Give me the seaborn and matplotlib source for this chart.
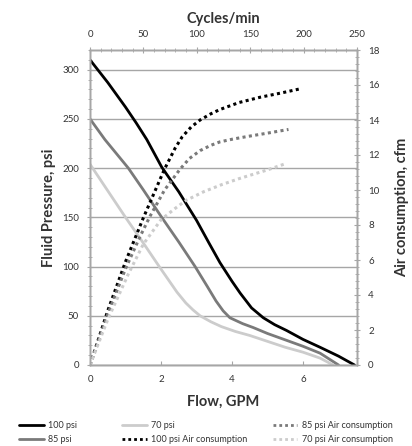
import numpy as np
import pandas as pd
import matplotlib
matplotlib.use("Agg")
import matplotlib.pyplot as plt
from matplotlib.ticker import MultipleLocator
from matplotlib.lines import Line2D
import seaborn as sns

# %% DATA
# fluid pressure (psi) vs flow (GPM)
flow_100 = [0, 0.5, 1.0, 1.3, 1.6, 2.02, 2.5, 3.0, 3.35, 3.66, 4.0, 4.23, 4.55,
            4.88, 5.2, 5.54, 6.0, 6.48, 7.0, 7.45]
psi_100 = [310, 287, 262, 246, 229, 201, 176, 147, 124, 104, 85, 73, 58,
           48, 41, 35, 26, 18, 9, 0]

flow_85 = [0, 0.42, 1.08, 1.5, 2.02, 2.5, 2.96, 3.3, 3.55, 3.75, 3.94, 4.3,
           4.6, 5.0, 5.54, 6.0, 6.48, 7.0]
psi_85 = [250, 229, 200, 178, 150, 125, 100, 80, 65, 55, 48, 42,
          38, 32, 25, 19, 12, 0]

flow_70 = [0, 0.5, 1.0, 1.5, 1.95, 2.2, 2.45, 2.7, 2.9, 3.1, 3.4, 3.7, 4.1,
           4.5, 5.0, 5.5, 6.0, 6.48, 6.85]
psi_70 = [204, 177, 150, 124, 100, 87, 74, 63, 56, 50, 44, 39, 34,
          30, 24, 18, 13, 7, 0]

# air consumption (cfm) vs flow (GPM)
air_flow_100 = [0, 0.5, 1.0, 1.5, 1.8, 2.1, 2.4, 2.6, 2.85, 3.1, 3.4, 3.66,
                4.2, 4.79, 5.4, 5.96]
cfm_100 = [0, 3.1, 5.9, 8.4, 9.8, 11.2, 12.4, 13.05, 13.6, 14.0, 14.35, 14.6,
           15.0, 15.3, 15.55, 15.8]

air_flow_85 = [0, 0.5, 1.0, 1.4, 1.69, 2.1, 2.54, 2.8, 3.1, 3.4, 3.66, 4.0,
               4.41, 5.0, 5.59]
cfm_85 = [0, 2.9, 5.5, 7.3, 8.5, 10.0, 11.2, 11.8, 12.25, 12.55, 12.75, 12.9,
          13.05, 13.25, 13.46]

air_flow_70 = [0, 0.5, 1.08, 1.5, 2.0, 2.4, 2.7, 3.2, 3.7, 4.2, 4.6, 5.0, 5.5]
cfm_70 = [0, 2.6, 5.2, 6.9, 8.3, 8.95, 9.4, 9.9, 10.3, 10.65, 10.9, 11.15, 11.5]

cycle_ticks = [0, 50, 100, 150, 200, 250]

BLACK = "#000000"
DARK = "#7a7a7a"
LIGHT = "#cccccc"
GRID = "#a6a6a6"
TXT = "#333333"

sns.set_style("white")
plt.rcParams["font.family"] = ["Lato", "DejaVu Sans"]

fig = plt.figure(figsize=(4.12, 4.46), dpi=100)
ax = fig.add_axes([90 / 412, 1 - 365 / 446, 267 / 412, 315 / 446])
ax2 = ax.twinx()
ax3 = ax.twiny()

# pressure curves
for x, y, c in [(flow_100, psi_100, BLACK),
                (flow_85, psi_85, DARK),
                (flow_70, psi_70, LIGHT)]:
    sns.lineplot(x=x, y=y, ax=ax, color=c, linewidth=2, sort=False,
                 estimator=None, legend=False)

# air consumption curves
dot = (0, (1, 1.1))
for x, y, c in [(air_flow_100, cfm_100, BLACK),
                (air_flow_85, cfm_85, DARK),
                (air_flow_70, cfm_70, LIGHT)]:
    sns.lineplot(x=x, y=y, ax=ax2, color=c, linewidth=2.2, sort=False,
                 estimator=None, legend=False)
for ln in ax2.get_lines():
    ln.set_linestyle(dot)
    ln.set_dash_capstyle("butt")

ax.set_xlim(0, 7.52)
ax.set_ylim(0, 320)
ax2.set_ylim(0, 18)
ax3.set_xlim(0, 250)

ax.yaxis.set_major_locator(MultipleLocator(50))
ax.yaxis.set_minor_locator(MultipleLocator(10))
ax.xaxis.set_major_locator(MultipleLocator(2))
ax2.yaxis.set_major_locator(MultipleLocator(2))
ax2.yaxis.set_minor_locator(MultipleLocator(0.4))
ax3.set_xticks(cycle_ticks)
ax3.xaxis.set_minor_locator(MultipleLocator(10))

ax.grid(axis="y", color=GRID, linewidth=1)
ax.grid(axis="x", visible=False)
ax2.grid(False)
ax3.grid(False)
ax.set_axisbelow(True)

for a in (ax, ax2, ax3):
    for s in a.spines.values():
        s.set_color(GRID)
        s.set_linewidth(1)

ax.tick_params(axis="y", which="major", direction="inout", length=4, color=GRID,
               labelsize=7, labelcolor=TXT, pad=6, left=True)
ax.tick_params(axis="y", which="minor", direction="inout", length=3, color=GRID, left=True)
ax.tick_params(axis="x", which="major", direction="in", length=3, color=GRID,
               labelsize=7, labelcolor=TXT, pad=7, bottom=True)
ax2.tick_params(axis="y", which="major", direction="inout", length=4, color=GRID,
                labelsize=7, labelcolor=TXT, pad=6, right=True)
ax2.tick_params(axis="y", which="minor", direction="inout", length=3, color=GRID, right=True)
ax3.tick_params(axis="x", which="major", direction="inout", length=4, color=GRID,
                labelsize=7, labelcolor=TXT, pad=6, top=True)
ax3.tick_params(axis="x", which="minor", direction="inout", length=2.5, color=GRID, top=True)

ax.set_xlabel("Flow, GPM", fontsize=10.5, fontweight="bold", color=TXT, labelpad=8)
ax.set_ylabel("Fluid Pressure, psi", fontsize=10.5, fontweight="bold", color=TXT, labelpad=4)
ax2.set_ylabel("Air consumption, cfm", fontsize=10.5, fontweight="bold", color=TXT,
               labelpad=11, rotation=90)
ax3.set_xlabel("Cycles/min", fontsize=10.5, fontweight="bold", color=TXT, labelpad=5)

# legend in three columns, as in the reference
cols = [
    (0.047, [("100 psi", BLACK, "-"), ("85 psi", DARK, "-")]),
    (0.297, [("70 psi", LIGHT, "-"), ("100 psi Air consumption", BLACK, dot)]),
    (0.662, [("85 psi Air consumption", DARK, dot), ("70 psi Air consumption", LIGHT, dot)]),
]
for x0, items in cols:
    handles = [Line2D([], [], color=c, linestyle=ls, linewidth=2, dash_capstyle="butt")
               for _, c, ls in items]
    fig.legend(handles, [t for t, _, _ in items], loc="upper left",
               bbox_to_anchor=(x0, 1 - 421 / 446), frameon=False, fontsize=6.5,
               handlelength=2.7, handletextpad=0.5, labelspacing=0.6,
               borderaxespad=0, borderpad=0, labelcolor=TXT)

fig.savefig("out.png", dpi=100)
